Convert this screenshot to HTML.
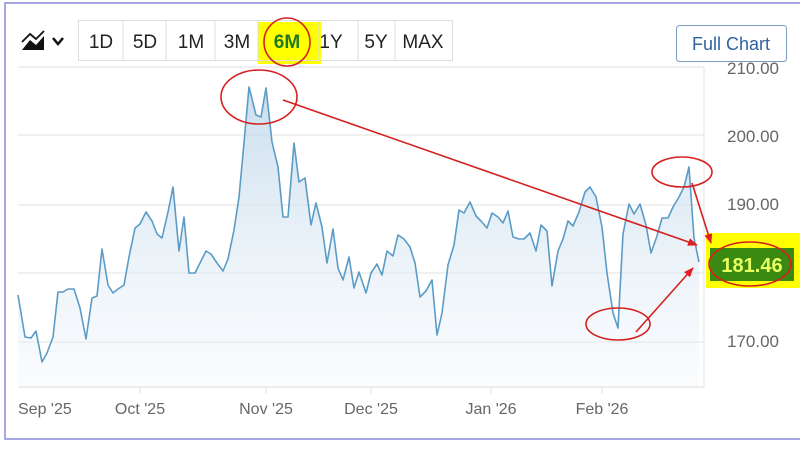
<!DOCTYPE html>
<html><head><meta charset="utf-8"><style>
html,body{margin:0;padding:0;background:#fff;}
body{width:800px;height:444px;overflow:hidden;font-family:"Liberation Sans",sans-serif;}
</style></head><body>
<svg width="800" height="444" viewBox="0 0 800 444" xmlns="http://www.w3.org/2000/svg" font-family="Liberation Sans, sans-serif">
<defs>
<linearGradient id="g" x1="0" y1="0" x2="0" y2="1">
<stop offset="0" stop-color="#b9d3e8" stop-opacity="0.75"/>
<stop offset="1" stop-color="#eef4fa" stop-opacity="0.3"/>
</linearGradient>
<marker id="ah" markerWidth="10" markerHeight="8" refX="9" refY="4" orient="auto" markerUnits="userSpaceOnUse"><path d="M0,0 L10,4 L0,8 z" fill="#e02020"/></marker>
</defs>
<rect x="5" y="3" width="800" height="436" fill="#fff" stroke="#8a8ad8" stroke-width="1.5"/>
<g stroke="#e2e2e2" stroke-width="1">
<line x1="18" y1="67" x2="704" y2="67"/>
<line x1="18" y1="135" x2="704" y2="135"/>
<line x1="18" y1="205" x2="704" y2="205"/>
<line x1="18" y1="273" x2="704" y2="273"/>
<line x1="18" y1="342" x2="704" y2="342"/>
<line x1="18" y1="387" x2="704" y2="387" stroke="#d8d8d8"/>
<line x1="704" y1="67" x2="704" y2="387"/>
<line x1="140" y1="387" x2="140" y2="394"/><line x1="266" y1="387" x2="266" y2="394"/><line x1="371" y1="387" x2="371" y2="394"/><line x1="491" y1="387" x2="491" y2="394"/><line x1="602" y1="387" x2="602" y2="394"/>
</g>
<polygon fill="url(#g)" points="18,387 18,295 21,313 25,337 31,338 36,331 42,362 47,353 53,337 58,292 63,292 68,289 74,289 80,308 86,339 92,298 97,296 102,249 108,285 113,293 118,289 124,285 129,257 135,228 140,224 146,212 152,221 157,234 162,238 168,212 173,187 179,251 184,217 189,273 195,273 201,261 206,251 211,254 217,263 223,271 228,259 234,230 239,197 244,143 249,87 256,115 261,117 266,88 272,142 278,167 283,217 288,217 294,143 299,182 305,178 311,225 316,203 322,227 327,263 333,229 338,268 343,280 349,257 354,288 359,272 366,293 371,273 377,264 382,275 387,251 393,256 398,235 404,239 410,247 415,263 420,297 426,291 432,280 437,335 442,313 448,265 454,245 459,210 464,213 470,202 476,216 481,221 487,228 492,213 498,217 503,223 508,211 513,237 519,239 524,239 530,233 536,251 541,225 547,231 552,286 558,251 563,239 568,221 573,226 579,212 585,192 590,187 596,197 602,227 607,273 613,313 618,328 623,234 629,204 634,214 640,204 646,225 651,253 657,236 662,218 668,218 673,207 679,197 684,187 689,167 694,238 699,262 699,387"/>
<polyline fill="none" stroke="#5b9cc6" stroke-width="1.6" stroke-linejoin="round" points="18,295 21,313 25,337 31,338 36,331 42,362 47,353 53,337 58,292 63,292 68,289 74,289 80,308 86,339 92,298 97,296 102,249 108,285 113,293 118,289 124,285 129,257 135,228 140,224 146,212 152,221 157,234 162,238 168,212 173,187 179,251 184,217 189,273 195,273 201,261 206,251 211,254 217,263 223,271 228,259 234,230 239,197 244,143 249,87 256,115 261,117 266,88 272,142 278,167 283,217 288,217 294,143 299,182 305,178 311,225 316,203 322,227 327,263 333,229 338,268 343,280 349,257 354,288 359,272 366,293 371,273 377,264 382,275 387,251 393,256 398,235 404,239 410,247 415,263 420,297 426,291 432,280 437,335 442,313 448,265 454,245 459,210 464,213 470,202 476,216 481,221 487,228 492,213 498,217 503,223 508,211 513,237 519,239 524,239 530,233 536,251 541,225 547,231 552,286 558,251 563,239 568,221 573,226 579,212 585,192 590,187 596,197 602,227 607,273 613,313 618,328 623,234 629,204 634,214 640,204 646,225 651,253 657,236 662,218 668,218 673,207 679,197 684,187 689,167 694,238 699,262"/>
<g fill="#666" font-size="17" text-anchor="end">
<text x="779" y="74">210.00</text>
<text x="779" y="142">200.00</text>
<text x="779" y="210">190.00</text>
<text x="779" y="347">170.00</text>
</g>
<g fill="#666" font-size="16">
<text x="18" y="414">Sep '25</text>
<text x="140" y="414" text-anchor="middle">Oct '25</text>
<text x="266" y="414" text-anchor="middle">Nov '25</text>
<text x="371" y="414" text-anchor="middle">Dec '25</text>
<text x="491" y="414" text-anchor="middle">Jan '26</text>
<text x="602" y="414" text-anchor="middle">Feb '26</text>
</g>
<rect x="258" y="22" width="63" height="42" fill="#ffff00"/>
<rect x="78.5" y="20.5" width="374" height="40" fill="none" stroke="#ddd"/>
<g stroke="#ddd"><line x1="123" y1="20" x2="123" y2="61"/><line x1="166" y1="20" x2="166" y2="61"/><line x1="215" y1="20" x2="215" y2="61"/><line x1="258" y1="20" x2="258" y2="61"/><line x1="319" y1="20" x2="319" y2="61"/><line x1="358" y1="20" x2="358" y2="61"/><line x1="395" y1="20" x2="395" y2="61"/></g>
<g font-size="19" fill="#222" text-anchor="middle">
<text x="101" y="48">1D</text><text x="145" y="48">5D</text><text x="191" y="48">1M</text><text x="237" y="48">3M</text>
<text x="287" y="48" fill="#1f7a1f" font-weight="bold">6M</text>
<text x="331" y="48">1Y</text><text x="376" y="48">5Y</text><text x="423" y="48">MAX</text>
</g>
<path d="M22,50 L30,40 L36,45 L44,36 L44,50 Z" fill="#111"/>
<path d="M22,42 L30,34 L36,39 L44,31" fill="none" stroke="#111" stroke-width="1.8"/>
<path d="M53,38 L58,44 L63,38" fill="none" stroke="#111" stroke-width="2.5"/>
<rect x="676.5" y="25.5" width="110" height="36" rx="3" fill="#fff" stroke="#7a9cc0"/>
<text x="731" y="50" font-size="18" fill="#2f64a0" text-anchor="middle">Full Chart</text>
<rect x="706" y="233" width="94" height="55" fill="#ffff00"/>
<rect x="710" y="248" width="84" height="33" fill="#3a8a12"/>
<text x="752" y="272" font-size="20" font-weight="bold" fill="#e8ff60" text-anchor="middle">181.46</text>
<g fill="none" stroke="#d42020" stroke-width="1.6">
<ellipse cx="287" cy="42" rx="23" ry="24"/>
<ellipse cx="259" cy="97" rx="38" ry="27"/>
<ellipse cx="682" cy="172" rx="30" ry="15"/>
<ellipse cx="618" cy="324" rx="32" ry="16"/>
<ellipse cx="750" cy="264" rx="41" ry="22"/>
<line x1="283" y1="100" x2="697" y2="245" marker-end="url(#ah)"/>
<line x1="692" y1="183" x2="711" y2="243" marker-end="url(#ah)"/>
<line x1="636" y1="332" x2="693" y2="268" marker-end="url(#ah)"/>
</g>
</svg>
</body></html>
